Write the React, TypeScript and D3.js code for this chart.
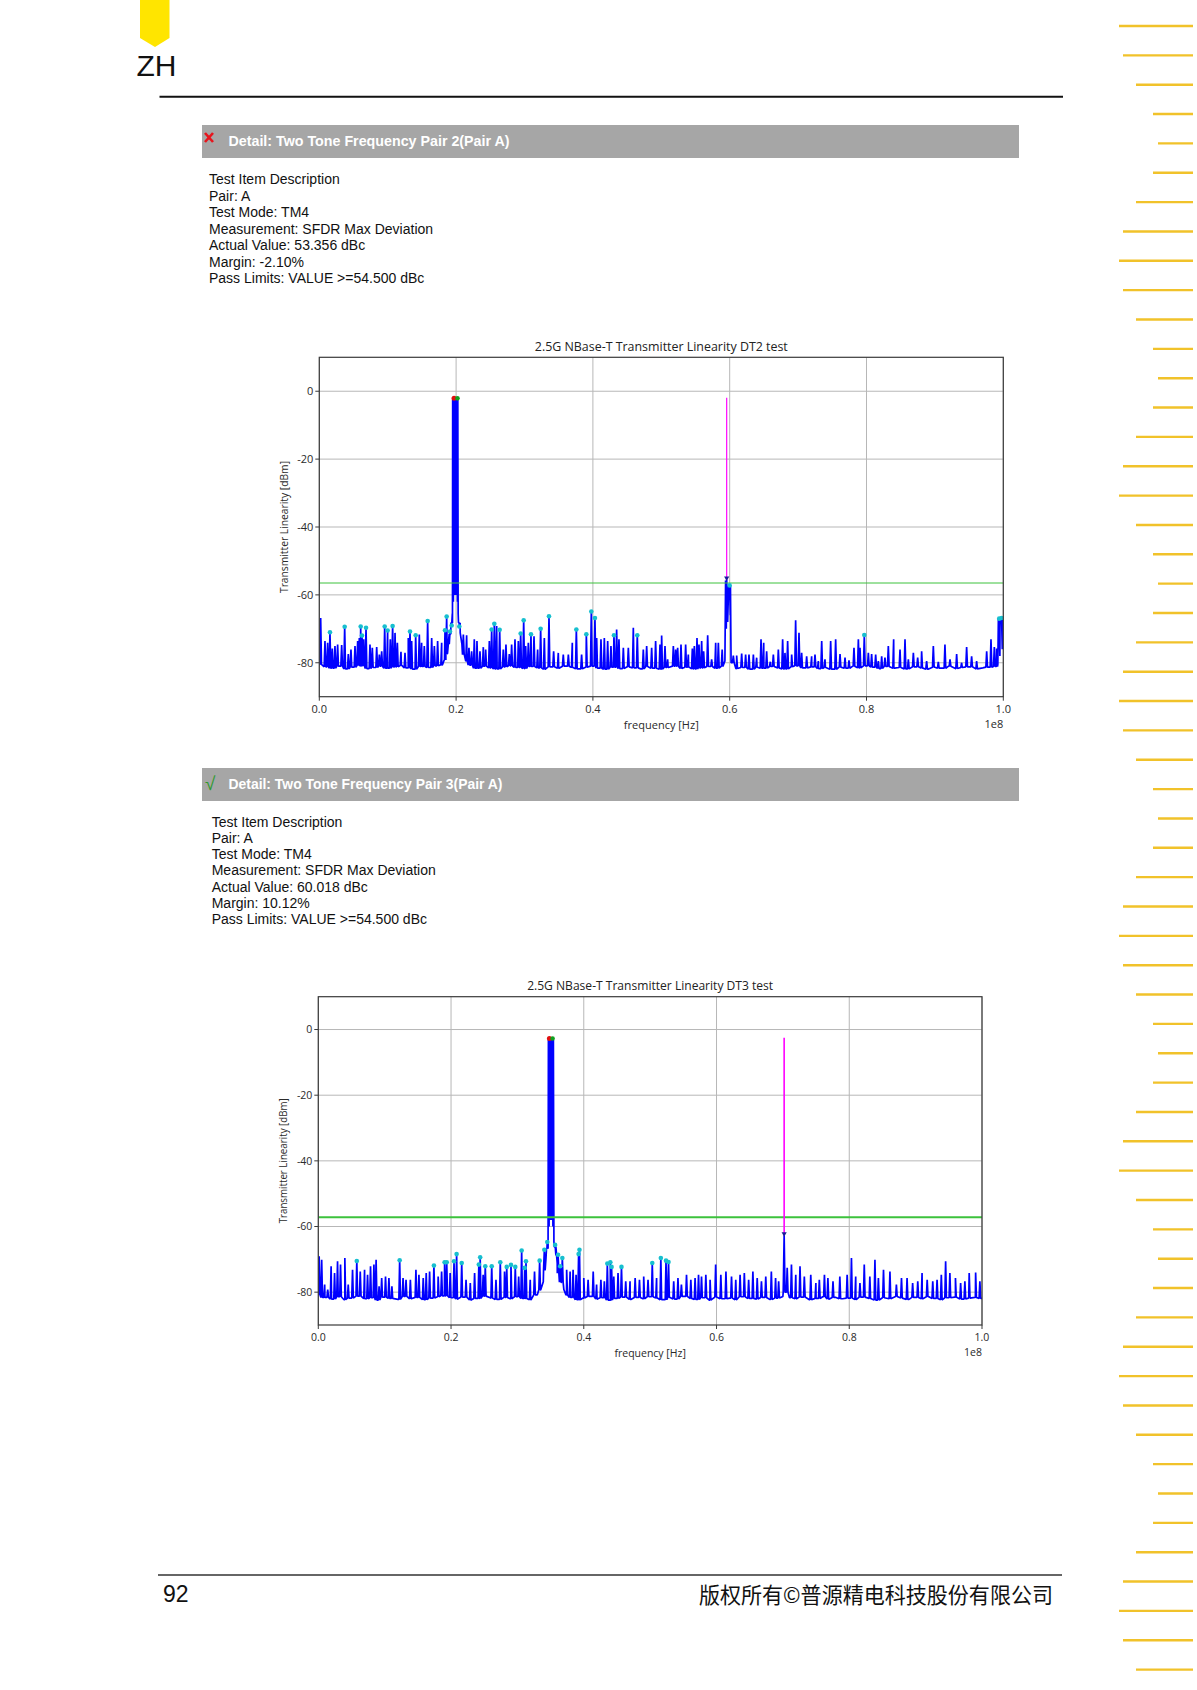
import { scaleLinear, line, bisector } from 'd3'

type Pt = [number, number]

// axis ticks, frequency in MHz (axis carries a 1e8 offset), level in dBm
const FREQ_TICKS = [0, 20, 40, 60, 80, 100]
const LEVEL_TICKS = [0, -20, -40, -60, -80]

const INFO_DT2 = [
  'Test Item Description',
  'Pair: A',
  'Test Mode: TM4',
  'Measurement: SFDR Max Deviation',
  'Actual Value: 53.356 dBc',
  'Margin: -2.10%',
  'Pass Limits: VALUE >=54.500 dBc',
]
const INFO_DT3 = [
  'Test Item Description',
  'Pair: A',
  'Test Mode: TM4',
  'Measurement: SFDR Max Deviation',
  'Actual Value: 60.018 dBc',
  'Margin: 10.12%',
  'Pass Limits: VALUE >=54.500 dBc',
]

// noise floor, one reading per MHz (0..100)
const FLOOR1 = [
  -80.5, -81.2, -81.6, -81.0, -81.8, -81.3, -80.9, -81.7, -81.4, -81.0,
  -81.6, -81.2, -80.8, -81.5, -81.9, -81.1, -81.4, -80.9, -81.3, -80.6,
  -80.4, -80.8, -81.3, -81.6, -81.0, -81.5, -81.8, -81.2, -80.9, -81.4,
  -81.7, -81.1, -81.5, -81.9, -81.2, -81.6, -81.0, -81.4, -81.8, -81.3,
  -81.0, -81.6, -81.9, -81.3, -81.7, -81.2, -81.5, -81.8, -81.1, -81.6,
  -81.9, -81.4, -81.0, -81.7, -81.3, -81.8, -81.5, -81.1, -81.6, -81.0,
  -81.2, -81.7, -81.4, -81.9, -81.3, -81.6, -81.1, -81.5, -81.8, -81.2,
  -80.9, -81.5, -81.2, -81.7, -81.4, -81.9, -81.3, -81.6, -81.0, -81.5,
  -80.9, -81.3, -81.7, -81.1, -81.6, -81.4, -81.8, -81.2, -81.5, -81.9,
  -81.3, -81.6, -81.0, -81.7, -81.4, -81.2, -81.8, -81.5, -81.3, -81.1, -81.4,
]
const FLOOR2 = [
  -80.8, -81.6, -82.1, -81.4, -82.3, -81.8, -81.2, -82.0, -81.7, -82.4,
  -81.5, -81.9, -82.2, -81.3, -82.0, -81.6, -82.3, -81.8, -81.4, -81.1,
  -81.7, -82.1, -81.5, -82.4, -81.9, -81.2, -81.8, -82.2, -81.6, -82.0,
  -81.4, -81.9, -82.3, -81.7, -81.0, -81.2, -81.5, -82.0, -81.6, -82.3,
  -81.8, -81.3, -82.1, -81.7, -82.4, -81.9, -81.5, -82.2, -81.6, -82.0,
  -81.4, -81.8, -82.3, -81.6, -82.1, -81.3, -81.9, -82.2, -81.7, -82.4,
  -81.5, -82.0, -81.8, -82.3, -81.4, -81.9, -82.1, -81.6, -82.2, -81.8,
  -81.3, -81.7, -82.0, -81.5, -82.3, -81.9, -81.4, -82.1, -81.6, -82.0,
  -81.8, -82.2, -81.5, -81.9, -82.4, -81.7, -82.0, -81.3, -81.8, -82.2,
  -81.6, -82.0, -81.4, -81.9, -82.3, -81.7, -81.5, -82.1, -81.8, -81.6, -81.9,
]

// unmarked spurs [MHz, dBm]
const SPURS1: Pt[] = [
  [0.2, -66.8], [0.83, -73.6], [1.22, -74.1], [1.9, -75.8], [2.29, -75.1], [2.68, -74.6], [3.27, -74.8],
  [4.24, -77.4], [4.63, -76.1], [5.22, -75.1], [5.61, -73.6], [5.85, -72.7], [6.49, -73.1], [7.41, -74.6],
  [7.75, -75.6], [8.39, -75.4], [8.78, -77.6], [9.12, -76.6], [10.38, -73.1], [11.07, -71.2], [11.41, -74.1],
  [11.94, -76.8], [12.53, -77.1], [13.01, -72.7], [13.5, -73.6], [14.62, -71.7], [14.96, -74.1], [15.35, -75.1],
  [16.43, -72.7], [16.82, -75.1], [17.3, -73.6], [17.89, -74.1], [21.06, -71.7], [21.54, -71.9], [21.88, -75.6],
  [22.27, -76.6], [22.66, -73.1], [23.05, -73.6], [23.49, -76.6], [23.98, -75.4], [24.32, -76.1], [24.86, -73.6],
  [25.93, -69.2], [26.9, -76.1], [27.29, -74.6], [27.78, -77.4], [28.12, -74.6], [28.61, -73.1], [29.1, -73.6],
  [30.17, -75.1], [30.56, -74.1], [31.39, -72.2], [31.92, -76.1], [32.9, -72.7], [34.26, -76.6], [34.94, -77.1],
  [35.67, -77.6], [36.41, -77.6], [36.99, -74.1], [38.35, -77.6], [40.55, -72.7], [41.18, -73.1], [41.67, -72.7],
  [42.16, -73.6], [42.64, -75.1], [43.47, -70.2], [43.81, -73.1], [44.45, -75.6], [45.18, -75.6], [45.91, -69.7],
  [47.37, -76.1], [47.86, -75.1], [48.59, -75.6], [49.17, -73.6], [49.81, -74.6], [50.05, -72.0], [50.54, -75.1],
  [50.93, -79.0], [51.76, -75.1], [52.1, -76.1], [52.39, -75.6], [52.88, -74.6], [53.56, -74.6], [53.95, -77.6],
  [54.54, -75.8], [54.83, -75.1], [55.22, -72.7], [55.51, -74.6], [55.9, -73.6], [56.19, -76.6], [56.78, -71.9],
  [57.36, -79.0], [57.95, -74.1], [58.34, -74.1], [58.9, -76.1], [60.53, -77.9], [61.02, -77.9], [61.75, -77.3],
  [62.33, -77.6], [62.82, -77.6], [63.46, -77.6], [63.94, -78.5], [64.58, -73.1], [64.97, -74.1], [65.4, -76.6],
  [65.94, -79.7], [66.38, -77.6], [67.11, -76.1], [67.74, -73.1], [68.08, -77.1], [68.47, -73.6], [69.06, -77.6],
  [69.64, -67.5], [70.13, -71.2], [70.52, -77.1], [71.25, -78.1], [71.98, -78.1], [72.47, -77.6], [72.96, -79.5],
  [73.45, -73.6], [73.93, -79.0], [74.76, -73.6], [75.49, -73.1], [76.13, -77.4], [76.86, -78.5], [77.44, -79.3],
  [78.17, -75.6], [78.81, -73.1], [79.05, -75.6], [80.27, -77.1], [80.75, -77.4], [81.34, -77.6], [81.73, -79.5],
  [82.22, -78.1], [82.7, -78.5], [83.19, -75.1], [83.97, -73.1], [84.9, -76.1], [85.63, -73.1], [86.12, -79.0],
  [86.85, -77.1], [87.48, -78.5], [88.06, -76.6], [88.79, -79.5], [89.77, -75.1], [90.5, -79.7], [91.47, -74.6],
  [92.21, -79.0], [93.18, -77.4], [93.91, -80.0], [94.64, -75.4], [95.37, -78.1], [96.1, -79.5], [97.57, -76.6],
  [98.2, -73.1], [98.69, -75.4], [99.03, -75.8],
]
// spurs flagged by the tester (cyan dots)
const MARKS1: Pt[] = [
  [1.56, -71.0], [3.71, -69.4], [6.05, -69.3], [6.24, -72.0], [6.83, -69.7], [9.56, -69.3], [9.99, -70.5],
  [10.72, -69.2], [13.26, -70.8], [14.09, -71.9], [15.84, -67.7], [18.38, -70.4], [18.62, -66.4], [19.11, -70.8],
  [19.35, -69.0], [20.47, -69.3], [25.2, -70.2], [25.59, -68.5], [26.37, -70.3], [29.44, -71.4], [29.88, -67.5],
  [30.95, -71.6], [32.36, -70.0], [33.58, -66.3], [37.58, -70.2], [39.04, -71.6], [39.77, -64.9], [40.3, -66.8],
  [43.08, -71.9], [46.49, -71.9], [59.99, -57.2], [79.68, -71.8], [99.4, -67.0], [99.75, -66.8],
]
// tone skirt, second-tone spur and band-edge block
const SKIRTS1: Pt[][] = [
  [
    [17.9, -80.6], [18.3, -79.2], [18.7, -77.3], [19.0, -74.5], [19.2, -71.5], [19.35, -68.3], [19.45, -65.5],
    [19.5, -2.4], [19.6, -62], [19.7, -2.1], [19.8, -60], [19.9, -2.2], [20.0, -60], [20.1, -2.2], [20.2, -62],
    [20.25, -2.3], [20.3, -65.5], [20.45, -68.2], [20.6, -71.2], [20.85, -74.5], [21.2, -77.6], [21.6, -79.6], [22.0, -80.7],
  ],
  [[59.3, -79.5], [59.4, -55.8], [59.5, -70], [59.56, -55.5], [59.7, -68], [59.85, -57.0], [59.99, -57.2], [60.1, -66], [60.2, -80]],
  [[99.2, -80.5], [99.3, -67.2], [99.4, -67.0], [99.5, -78], [99.6, -66.9], [99.75, -66.8], [99.85, -76], [100, -66.8]],
]

const SPURS2: Pt[] = [
  [0.13, -69.1], [0.51, -70.1], [0.96, -77.7], [1.42, -79.2], [1.93, -72.1], [2.45, -74.2], [2.9, -70.6],
  [3.35, -71.6], [4.0, -69.6], [4.51, -77.7], [5.16, -73.2], [6.32, -73.7], [6.97, -73.2], [7.42, -74.7],
  [7.87, -72.1], [8.38, -71.6], [8.71, -70.1], [9.16, -78.2], [9.55, -75.7], [10.13, -75.2], [10.64, -75.7],
  [11.09, -78.2], [12.77, -75.7], [13.22, -76.2], [13.87, -76.2], [14.71, -73.2], [15.16, -74.7], [15.81, -75.7],
  [16.26, -74.2], [16.77, -73.7], [18.06, -75.2], [18.58, -73.7], [19.87, -74.2], [22.26, -76.2], [22.9, -77.2],
  [23.55, -74.2], [24.84, -74.7], [26.77, -76.2], [28.06, -73.7], [30.19, -75.2], [31.93, -76.2], [32.58, -73.7],
  [37.42, -73.2], [37.94, -73.7], [38.39, -73.2], [38.84, -74.7], [40.0, -75.7], [40.65, -76.2], [41.42, -73.7],
  [41.93, -77.7], [42.58, -76.2], [43.1, -76.7], [44.52, -75.2], [45.16, -74.2], [46.32, -76.7], [46.97, -76.7],
  [47.74, -75.7], [48.39, -76.2], [49.03, -75.2], [49.68, -76.2], [50.97, -75.7], [53.55, -76.7], [54.19, -75.7],
  [54.71, -77.7], [55.48, -74.7], [56.13, -76.2], [56.77, -75.7], [57.29, -74.7], [57.74, -75.2], [58.39, -74.7],
  [59.03, -76.2], [59.87, -71.6], [60.65, -74.7], [61.42, -73.7], [62.26, -75.2], [62.9, -76.2], [63.55, -74.7],
  [64.19, -74.2], [64.84, -76.2], [65.48, -73.7], [66.13, -75.7], [66.77, -76.7], [67.42, -75.2], [68.26, -73.7],
  [68.9, -75.7], [69.36, -76.7], [70.65, -72.6], [71.29, -71.6], [71.94, -74.7], [72.58, -72.1], [73.23, -75.2],
  [74.2, -74.7], [74.97, -77.2], [75.49, -76.2], [76.26, -74.7], [76.78, -75.7], [77.55, -76.7], [78.58, -75.2],
  [79.68, -74.7], [80.33, -69.6], [80.97, -75.2], [81.61, -77.2], [82.26, -71.6], [83.1, -75.2], [83.87, -70.1],
  [84.39, -75.7], [85.16, -73.2], [86.13, -73.7], [87.1, -77.7], [87.87, -75.7], [88.71, -75.7], [89.55, -77.2],
  [90.32, -76.7], [90.97, -74.2], [91.74, -76.2], [92.58, -76.7], [93.23, -76.2], [93.87, -74.7], [94.52, -70.6],
  [95.16, -74.2], [96.0, -75.7], [96.78, -77.2], [97.42, -76.7], [98.07, -74.2], [99.04, -74.0], [99.68, -76.7],
]
const MARKS2: Pt[] = [
  [5.8, -70.5], [12.26, -70.3], [17.42, -71.9], [19.03, -70.9], [19.35, -70.9], [20.45, -70.6], [20.84, -68.4],
  [21.61, -71.1], [24.19, -71.6], [24.39, -69.4], [25.16, -72.1], [26.13, -72.1], [27.42, -70.9], [28.39, -72.3],
  [29.03, -71.7], [29.68, -72.3], [30.64, -67.3], [31.1, -72.6], [31.29, -70.6], [33.35, -70.4], [34.06, -67.1],
  [34.5, -64.7], [35.68, -65.6], [36.13, -68.6], [36.45, -72.1], [36.77, -69.6], [39.22, -68.4], [39.35, -67.1],
  [43.55, -71.3], [44.0, -70.9], [44.19, -72.3], [45.68, -72.3], [50.32, -71.1], [51.61, -69.6], [52.39, -70.4],
  [52.77, -70.8],
]
const SKIRTS2: Pt[][] = [
  [
    [33.0, -80.8], [33.5, -79.3], [33.9, -76.8], [34.15, -73.2], [34.3, -69.8], [34.45, -66.8], [34.6, -64.6],
    [34.67, -3.0], [34.77, -60], [34.85, -2.75], [34.95, -58], [35.05, -2.8], [35.15, -58], [35.25, -2.8],
    [35.35, -60], [35.42, -3.0], [35.5, -64.6], [35.62, -66.2], [35.8, -68.8], [36.0, -71.2], [36.25, -74.2],
    [36.6, -77], [37.0, -79.2], [37.4, -80.8],
  ],
  [[70.05, -80], [70.19, -62.7], [70.32, -80]],
]

// fundamental markers, limit level and second-tone probe
const TONE1 = { red: [19.7, -2.1] as Pt, green: [20.2, -2.1] as Pt }
const TONE2 = { red: [34.82, -2.75] as Pt, green: [35.3, -2.75] as Pt }
const LIMIT1 = -56.5
const LIMIT2 = -57.2
const PROBE1 = { f: 59.56, top: -1.9, bottom: -55.5 }
const PROBE2 = { f: 70.19, top: -2.5, bottom: -62.7 }

// decorative ruler on the right page edge
const RULER = [
  74, 70, 57, 40, 35, 40, 57, 70, 74, 70, 57, 40, 35, 40, 57, 70, 74, 57, 40, 35, 40, 57, 70, 74, 70, 57, 40, 35,
  40, 57, 70, 74, 70, 57, 40, 35, 40, 57, 70, 74, 57, 40, 35, 40, 57, 70, 74, 70, 57, 40, 35, 40, 57, 70, 74, 70, 57,
]

const PAGE_FONT = '"Liberation Sans", Arial, sans-serif'
const CHART_FONT = '"Open Sans", "Noto Sans", sans-serif'

function buildTrace(floor: number[], skirts: Pt[][], spikes: Pt[]): Pt[] {
  const inSkirt = (f: number) => skirts.some((s) => f >= s[0][0] && f <= s[s.length - 1][0])
  const base: Pt[] = floor
    .map((v, i) => [i, v] as Pt)
    .filter(([f]) => !inSkirt(f))
    .concat(...skirts)
    .sort((a, b) => a[0] - b[0])
  const near = bisector((d: Pt) => d[0]).center
  const pts = base.slice()
  for (const [f, v] of spikes) {
    const b = base[near(base, f)][1]
    pts.push([f - 0.12, b], [f, v], [f + 0.12, b])
  }
  return pts.sort((a, b) => a[0] - b[0])
}

type Box = { left: number; right: number; top: number; bottom: number }

function Spectrum({
  id,
  title,
  box,
  floor,
  spurs,
  marks,
  skirts,
  tone,
  limit,
  probe,
  fs,
  titleLen,
  yLabLen,
  limitW,
  probeW,
}: {
  id: string
  title: string
  box: Box
  floor: number[]
  spurs: Pt[]
  marks: Pt[]
  skirts: Pt[][]
  tone: { red: Pt; green: Pt }
  limit: number
  probe: { f: number; top: number; bottom: number }
  fs: number
  titleLen: number
  yLabLen: number
  limitW: number
  probeW: number
}) {
  const x = scaleLinear().domain([0, 100]).range([box.left, box.right])
  const y = scaleLinear().domain([-90, 10]).range([box.bottom, box.top])
  const trace = buildTrace(floor, skirts, spurs.concat(marks))
  const d = line<Pt>()
    .x((p) => x(p[0]))
    .y((p) => y(p[1]))(trace)
  const cx = (box.left + box.right) / 2
  const cy = (box.top + box.bottom) / 2
  const py = y(probe.bottom)
  const px = x(probe.f)
  return (
    <g fontFamily={CHART_FONT}>
      <defs>
        <clipPath id={id}>
          <rect x={box.left} y={box.top} width={box.right - box.left} height={box.bottom - box.top} />
        </clipPath>
      </defs>
      {FREQ_TICKS.map((t) => (
        <line key={'gx' + t} x1={x(t)} x2={x(t)} y1={box.top} y2={box.bottom} stroke="#b7b7b7" strokeWidth={1} />
      ))}
      {LEVEL_TICKS.map((t) => (
        <line key={'gy' + t} x1={box.left} x2={box.right} y1={y(t)} y2={y(t)} stroke="#b7b7b7" strokeWidth={1} />
      ))}
      <g clipPath={`url(#${id})`}>
        <path d={d ?? ''} fill="none" stroke="#0000ff" strokeWidth={1.7} strokeLinejoin="bevel" />
        <line x1={box.left} x2={box.right} y1={y(limit)} y2={y(limit)} stroke="#3cc23c" strokeWidth={limitW} />
        <line x1={px} x2={px} y1={y(probe.top)} y2={py} stroke="#ff00ff" strokeWidth={probeW} />
        <path d={`M${px - 2.6},${py - 3}L${px + 2.6},${py - 3}L${px},${py + 1.5}Z`} fill="#1a1a9a" />
        {marks.map(([f, v], i) => (
          <circle key={i} cx={x(f)} cy={y(v)} r={2.3} fill="#17bfcf" />
        ))}
        <circle cx={x(tone.red[0])} cy={y(tone.red[1])} r={2.5} fill="#e01010" />
        <circle cx={x(tone.green[0])} cy={y(tone.green[1])} r={2.3} fill="#10a020" />
      </g>
      <rect
        x={box.left}
        y={box.top}
        width={box.right - box.left}
        height={box.bottom - box.top}
        fill="none"
        stroke="#3a3a3a"
        strokeWidth={1.2}
      />
      {LEVEL_TICKS.map((t) => (
        <g key={'ty' + t}>
          <line x1={box.left - 4} x2={box.left} y1={y(t)} y2={y(t)} stroke="#3a3a3a" />
          <text x={box.left - 6} y={y(t) + fs * 0.36} textAnchor="end" fontSize={fs} fill="#2a2a2a">
            {t === 0 ? '0' : `-${-t}`}
          </text>
        </g>
      ))}
      {FREQ_TICKS.map((t) => (
        <g key={'tx' + t}>
          <line x1={x(t)} x2={x(t)} y1={box.bottom} y2={box.bottom + 4} stroke="#3a3a3a" />
          <text x={x(t)} y={box.bottom + 16} textAnchor="middle" fontSize={fs} fill="#2a2a2a">
            {(t / 100).toFixed(1)}
          </text>
        </g>
      ))}
      <text x={box.right} y={box.bottom + 31} textAnchor="end" fontSize={fs} fill="#2a2a2a">
        1e8
      </text>
      <text x={cx} y={box.bottom + 32} textAnchor="middle" fontSize={fs} fill="#2a2a2a">
        frequency [Hz]
      </text>
      <text
        transform={`translate(${box.left - 31},${cy}) rotate(-90)`}
        textAnchor="middle"
        fontSize={fs}
        fill="#2a2a2a"
        textLength={yLabLen}
        lengthAdjust="spacingAndGlyphs"
      >
        Transmitter Linearity [dBm]
      </text>
      <text
        x={cx}
        y={box.top - 6.5}
        textAnchor="middle"
        fontSize={13}
        fill="#222"
        textLength={titleLen}
        lengthAdjust="spacingAndGlyphs"
      >
        {title}
      </text>
    </g>
  )
}

function Section({
  top,
  textX,
  firstLine,
  step,
  pass,
  title,
  titleLen,
  lines,
}: {
  top: number
  textX: number
  firstLine: number
  step: number
  pass: boolean
  title: string
  titleLen: number
  lines: string[]
}) {
  return (
    <g fontFamily={PAGE_FONT}>
      <rect x={202} y={top} width={817} height={33} fill="#a6a6a6" />
      {pass ? (
        <text x={205} y={top + 22} fontSize={19} fill="#2f9a2f">
          √
        </text>
      ) : (
        <g stroke="#e8141c" strokeWidth={2.6}>
          <line x1={205} y1={top + 8} x2={213} y2={top + 17} />
          <line x1={213} y1={top + 8} x2={205} y2={top + 17} />
        </g>
      )}
      <text
        x={228.5}
        y={top + 21}
        fontSize={14}
        fontWeight="bold"
        fill="#fff"
        textLength={titleLen}
        lengthAdjust="spacingAndGlyphs"
      >
        {title}
      </text>
      {lines.map((s, i) => (
        <text key={i} x={textX} y={firstLine + i * step} fontSize={14} fill="#111">
          {s}
        </text>
      ))}
    </g>
  )
}

export default function App() {
  return (
    <svg
      width={1197}
      height={1690}
      viewBox="0 0 1197 1690"
      style={{ position: 'absolute', left: 0, top: 0, display: 'block', background: '#fff' }}
    >
      <rect x={0} y={0} width={1197} height={1690} fill="#fff" />
      {/* page header */}
      <path d="M140,0H169.5V38L155,47L140,38Z" fill="#ffe500" />
      <text x={136.5} y={75.5} fontSize={30} fontFamily={PAGE_FONT} fill="#111">
        ZH
      </text>
      <line x1={159.5} x2={1063} y1={96.7} y2={96.7} stroke="#111" strokeWidth={2} />
      {RULER.map((len, i) => (
        <line
          key={i}
          x1={1193 - len}
          x2={1193}
          y1={26 + i * 29.35}
          y2={26 + i * 29.35}
          stroke="#f1c22a"
          strokeWidth={2.4}
        />
      ))}

      <Section
        top={125}
        textX={209}
        firstLine={184}
        step={16.5}
        pass={false}
        title="Detail: Two Tone Frequency Pair 2(Pair A)"
        titleLen={281}
        lines={INFO_DT2}
      />
      <Spectrum
        id="dt2"
        title="2.5G NBase-T Transmitter Linearity DT2 test"
        box={{ left: 319.3, right: 1003.3, top: 357.3, bottom: 696.7 }}
        floor={FLOOR1}
        spurs={SPURS1}
        marks={MARKS1}
        skirts={SKIRTS1}
        tone={TONE1}
        limit={LIMIT1}
        probe={PROBE1}
        fs={11}
        titleLen={253}
        yLabLen={132}
        limitW={1}
        probeW={1.2}
      />

      <Section
        top={768}
        textX={211.7}
        firstLine={826.7}
        step={16.2}
        pass={true}
        title="Detail: Two Tone Frequency Pair 3(Pair A)"
        titleLen={274}
        lines={INFO_DT3}
      />
      <Spectrum
        id="dt3"
        title="2.5G NBase-T Transmitter Linearity DT3 test"
        box={{ left: 318.3, right: 982, top: 996.7, bottom: 1325 }}
        floor={FLOOR2}
        spurs={SPURS2}
        marks={MARKS2}
        skirts={SKIRTS2}
        tone={TONE2}
        limit={LIMIT2}
        probe={PROBE2}
        fs={10.5}
        titleLen={246}
        yLabLen={125}
        limitW={2}
        probeW={1.6}
      />

      {/* page footer */}
      <line x1={158} x2={1062} y1={1575} y2={1575} stroke="#333" strokeWidth={1.5} />
      <text x={163} y={1602} fontSize={23} fontFamily={PAGE_FONT} fill="#111">
        92
      </text>
      <text
        x={1053}
        y={1603}
        textAnchor="end"
        fontSize={22}
        fontFamily='"Noto Sans CJK SC", sans-serif'
        fill="#111"
        textLength={354}
        lengthAdjust="spacingAndGlyphs"
      >
        版权所有©普源精电科技股份有限公司
      </text>
    </svg>
  )
}
